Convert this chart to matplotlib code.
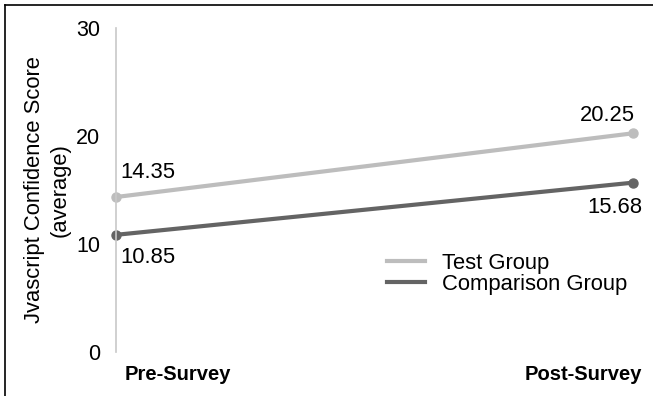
import matplotlib
matplotlib.use('Agg')
import matplotlib.pyplot as plt
from matplotlib.lines import Line2D

plt.rcParams['font.family'] = ['Liberation Sans', 'DejaVu Sans']

surveys = ['Pre-Survey', 'Post-Survey']
test_group = [14.35, 20.25]
comparison_group = [10.85, 15.68]
y_ticks = [0, 10, 20, 30]

light = '#bdbdbd'
dark = '#646464'
fs = 15.8

fig = plt.figure(figsize=(6.53, 3.96), dpi=100)
ax = fig.add_axes([116/653, 44/396, 517/653, 324/396])

x = [0, 1]
ax.plot(x, test_group, color=light, lw=3, marker='o', ms=6.5, label='Test Group', clip_on=False)
ax.plot(x, comparison_group, color=dark, lw=3, marker='o', ms=6.5, label='Comparison Group', clip_on=False)

ax.set_xlim(0, 1)
ax.set_ylim(0, 30)
ax.set_yticks(y_ticks)
ax.tick_params(axis='y', length=0, pad=11.5, labelsize=15.5)
ax.set_xticks([])
for s in ['top', 'right', 'bottom']:
    ax.spines[s].set_visible(False)
ax.spines['left'].set_color('#c8c8c8')
ax.spines['left'].set_linewidth(1.2)

ax.set_ylabel('Jvascript Confidence Score\n(average)', fontsize=fs, labelpad=3.5, linespacing=1.3)

# category labels under the axis ends
ax.annotate(surveys[0], (0, 0), xytext=(6.5, -16.5), textcoords='offset points',
            ha='left', va='center', fontsize=14.5, fontweight='bold', annotation_clip=False)
ax.annotate(surveys[1], (1, 0), xytext=(6.5, -16.5), textcoords='offset points',
            ha='right', va='center', fontsize=14.5, fontweight='bold', annotation_clip=False)

# value labels
ax.annotate(f'{test_group[0]:.2f}', (0, test_group[0]), xytext=(3, 18), textcoords='offset points',
            ha='left', va='center', fontsize=fs)
ax.annotate(f'{comparison_group[0]:.2f}', (0, comparison_group[0]), xytext=(3, -16), textcoords='offset points',
            ha='left', va='center', fontsize=fs)
ax.annotate(f'{test_group[1]:.2f}', (1, test_group[1]), xytext=(1.5, 13), textcoords='offset points',
            ha='right', va='center', fontsize=fs, annotation_clip=False)
ax.annotate(f'{comparison_group[1]:.2f}', (1, comparison_group[1]), xytext=(7, -18), textcoords='offset points',
            ha='right', va='center', fontsize=fs, annotation_clip=False)

handles = [Line2D([], [], color=light, lw=3), Line2D([], [], color=dark, lw=3)]
fig.legend(handles, ['Test Group', 'Comparison Group'], loc='upper left',
           bbox_to_anchor=(387/653, 1 - 253/396), bbox_transform=fig.transFigure,
           frameon=False, fontsize=fs, handlelength=1.75, handletextpad=0.75,
           labelspacing=0.0, borderpad=0, borderaxespad=0)

# frame edges on top and left
fig.add_artist(Line2D([4.5/653, 4.5/653], [0, 1 - 5/396], color='black', lw=1.2, transform=fig.transFigure))
fig.add_artist(Line2D([4.5/653, 1], [1 - 5/396, 1 - 5/396], color='black', lw=1.2, transform=fig.transFigure))

fig.savefig('out.png', dpi=100)
